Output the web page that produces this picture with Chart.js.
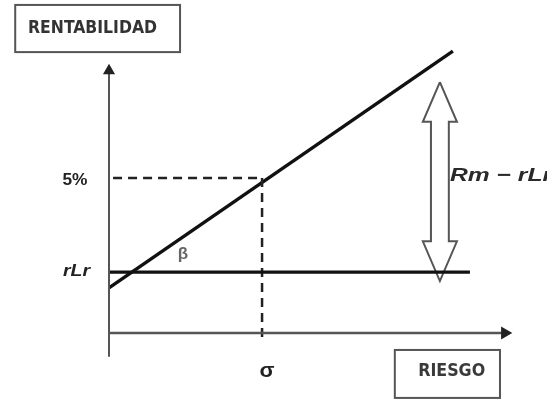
<!DOCTYPE html>
<html>
<head>
<meta charset="utf-8">
<script src="https://cdn.jsdelivr.net/npm/chart.js@4/dist/chart.umd.min.js"></script>
<style>
  html, body { margin: 0; padding: 0; background: #ffffff; }
  #c { display: block; }
</style>
</head>
<body>
<canvas id="c" width="547" height="401"></canvas>
<script>
// ---- values (abstract units: risk 0..100, return 0..100) ----
const sigma = 37.7;               // σ position on the risk axis
const riskFreeRate = 23.0;        // rLr level
const return5 = 58.5;             // "5%" level
const cmlRisk = [0, 84.7];        // market line, risk values
const cmlReturn = [17.0, 106.4];  // market line, return values
const riskFreeRisk = [0, 88.9];   // horizontal rLr line extent
const xAxisRange = [0, 99];
const yAxisRange = [-9, 99];
const spreadRisk = 81.5;          // double arrow (Rm − rLr) position
const spreadReturn = [19.6, 94.7];// double arrow bottom / top
const labelTexts = ["RENTABILIDAD", "RIESGO", "5%", "rLr", "β", "σ", "Rm − rLr"];

// double arrow outline, built from the values above
const headHalf = 4.2, shaftHalf = 2.2, headLen = 15.0;
const topBase = spreadReturn[1] - headLen, botBase = spreadReturn[0] + headLen;
const arrowPts = [
  [spreadRisk, spreadReturn[1]],
  [spreadRisk + headHalf, topBase],
  [spreadRisk + shaftHalf, topBase],
  [spreadRisk + shaftHalf, botBase],
  [spreadRisk + headHalf, botBase],
  [spreadRisk, spreadReturn[0]],
  [spreadRisk - headHalf, botBase],
  [spreadRisk - shaftHalf, botBase],
  [spreadRisk - shaftHalf, topBase],
  [spreadRisk - headHalf, topBase],
  [spreadRisk, spreadReturn[1]]
].map(p => ({x: p[0], y: p[1]}));

// annotation layout (text / boxes)
const labelLayout = [
  {x: -4.06, y: 114.9, w: 129, font: 'bold 18px "Liberation Sans Narrow", "DejaVu Sans Condensed", "Liberation Sans", sans-serif', color: '#333', align: 'center'},
  {x: 84.4, y: -14.5, w: 67, font: 'bold 18px "Liberation Sans Narrow", "DejaVu Sans Condensed", "Liberation Sans", sans-serif', color: '#3a3a3a', align: 'center'},
  {x: -8.4, y: 57.7, w: 25, font: 'bold 16px "Liberation Sans", sans-serif', color: '#222', align: 'center'},
  {x: -8.0, y: 23.0, w: 27, font: 'italic bold 16px "Liberation Sans", sans-serif', color: '#222', align: 'center'},
  {x: 18.2, y: 29.8, w: 0, font: 'bold 17px "Liberation Sans", sans-serif', color: '#666', align: 'center'},
  {x: 38.9, y: -14.5, w: 15, font: 'bold 20px "Liberation Sans", sans-serif', color: '#222', align: 'center'},
  {x: 84.0, y: 59.5, w: 102, font: 'italic bold 19px "Liberation Sans", sans-serif', color: '#2a2a2a', align: 'left'}
];
const boxLayout = [
  {x0: -23.1, x1: 17.5, y0: 106.0, y1: 123.8},
  {x0: 70.4, x1: 96.3, y0: -24.5, y1: -6.4}
];

const annotationPlugin = {
  id: 'annotations',
  afterDatasetsDraw(chart) {
    const ctx = chart.ctx, xs = chart.scales.x, ys = chart.scales.y;
    ctx.save();
    ctx.strokeStyle = '#555';
    ctx.lineWidth = 2;
    boxLayout.forEach(b => {
      const l = xs.getPixelForValue(b.x0), r = xs.getPixelForValue(b.x1);
      const t = ys.getPixelForValue(b.y1), btm = ys.getPixelForValue(b.y0);
      ctx.strokeRect(l, t, r - l, btm - t);
    });
    labelTexts.forEach((txt, i) => {
      const L = labelLayout[i];
      const px = xs.getPixelForValue(L.x), py = ys.getPixelForValue(L.y);
      ctx.font = L.font;
      ctx.fillStyle = L.color;
      ctx.textBaseline = 'middle';
      ctx.textAlign = L.align;
      const w = ctx.measureText(txt).width;
      const s = L.w ? L.w / w : 1;
      ctx.save();
      ctx.translate(px, py);
      ctx.scale(s, 1);
      ctx.fillText(txt, 0, 0);
      ctx.restore();
    });
    ctx.restore();
  }
};

const axisColor = '#555';
const lineColor = '#111';

new Chart(document.getElementById('c'), {
  type: 'scatter',
  data: {
    datasets: [
      { // y axis (RENTABILIDAD)
        data: [{x: 0, y: yAxisRange[0]}, {x: 0, y: yAxisRange[1]}],
        showLine: true, borderColor: axisColor, borderWidth: 2,
        pointRadius: [0, 5], pointStyle: 'triangle', pointRotation: 0,
        pointBackgroundColor: '#222', pointBorderColor: '#222'
      },
      { // x axis (RIESGO)
        data: [{x: xAxisRange[0], y: 0}, {x: xAxisRange[1] - 1.5, y: 0}],
        showLine: true, borderColor: axisColor, borderWidth: 2.5,
        pointRadius: [0, 5], pointStyle: 'triangle', pointRotation: 90,
        pointBackgroundColor: '#222', pointBorderColor: '#222'
      },
      { // risk-free horizontal line
        data: [{x: riskFreeRisk[0], y: riskFreeRate}, {x: riskFreeRisk[1], y: riskFreeRate}],
        showLine: true, borderColor: lineColor, borderWidth: 3.2, pointRadius: 0
      },
      { // 5% dashed
        data: [{x: 1, y: return5}, {x: sigma, y: return5}],
        showLine: true, borderColor: '#222', borderWidth: 2.5, borderDash: [9, 6], pointRadius: 0
      },
      { // sigma dashed
        data: [{x: sigma, y: return5}, {x: sigma, y: -1.5}],
        showLine: true, borderColor: '#222', borderWidth: 2.5, borderDash: [9, 6], pointRadius: 0
      },
      { // market line
        data: [{x: cmlRisk[0], y: cmlReturn[0]}, {x: cmlRisk[1], y: cmlReturn[1]}],
        showLine: true, borderColor: lineColor, borderWidth: 3.4, pointRadius: 0
      },
      { // double arrow
        data: arrowPts,
        showLine: true, borderColor: '#555', borderWidth: 2, pointRadius: 0, tension: 0
      }
    ]
  },
  options: {
    responsive: false,
    animation: false,
    devicePixelRatio: 1,
    layout: { padding: { left: 109, right: 32, top: 68, bottom: 68 } },
    scales: {
      x: { type: 'linear', min: 0, max: 100, display: false },
      y: { type: 'linear', min: 0, max: 100, display: false }
    },
    plugins: { legend: { display: false }, tooltip: { enabled: false } },
    elements: { line: { borderCapStyle: 'butt' } },
    clip: false
  },
  plugins: [annotationPlugin]
});
</script>
</body>
</html>
